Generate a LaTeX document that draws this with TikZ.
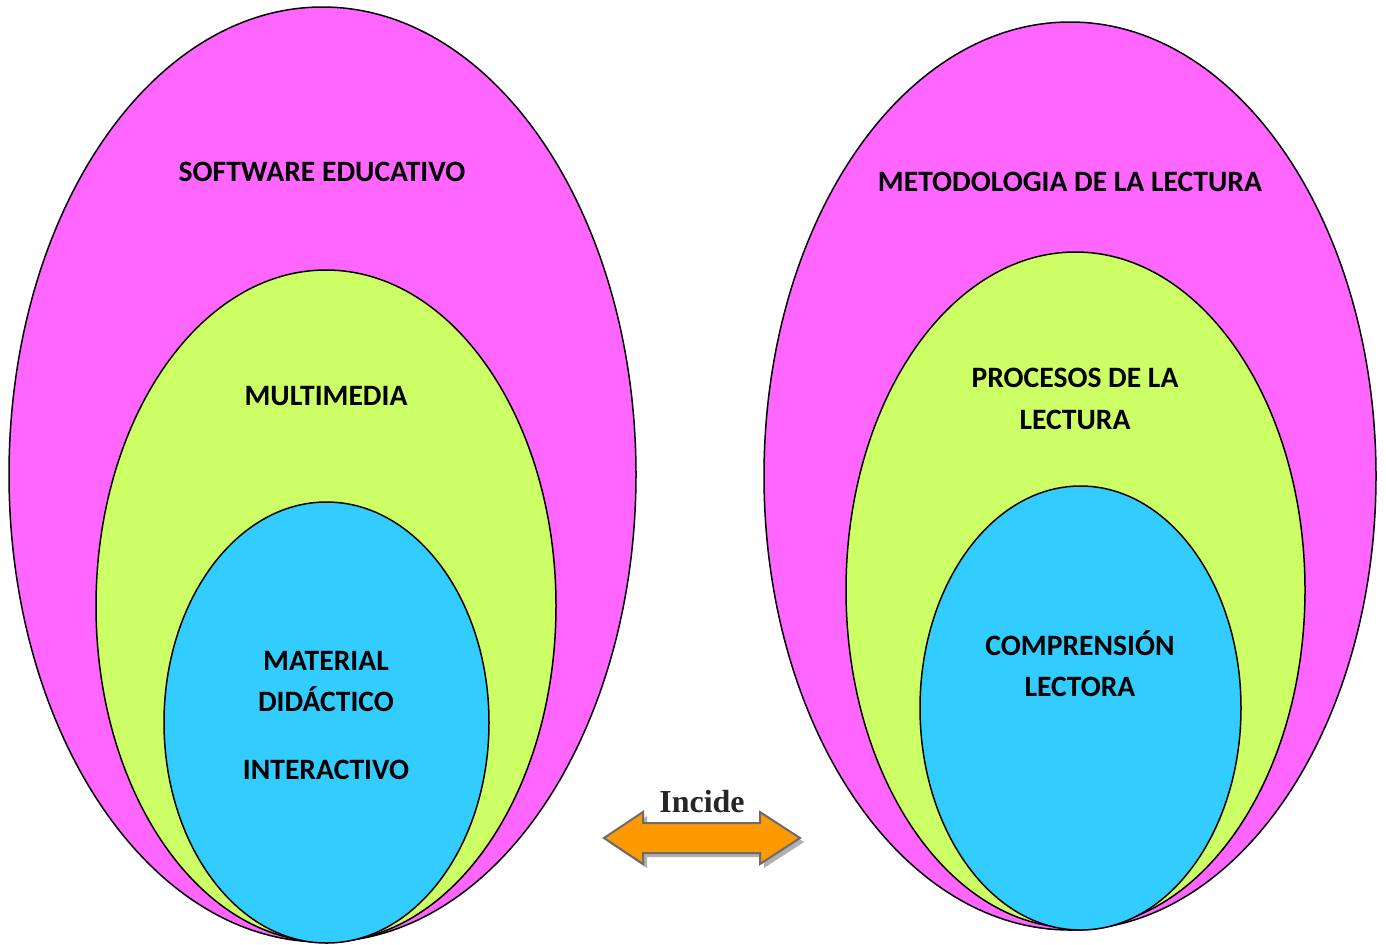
\documentclass[tikz,border=0pt]{standalone}
\usepackage{fontspec}
\setmainfont{Carlito}
\newfontfamily\timesf{Liberation Serif}
\usetikzlibrary{shapes.geometric}
\definecolor{magfill}{HTML}{FF66FF}
\definecolor{greenfill}{HTML}{CCFF66}
\definecolor{cyanfill}{HTML}{33CCFF}
\definecolor{arroworange}{HTML}{FF9900}
\definecolor{arrowedge}{HTML}{6B6B6B}
\definecolor{shadowgray}{HTML}{B0B0B0}
\definecolor{inctext}{HTML}{262626}
\tikzset{
  ell/.style={ellipse, draw=black, line width=0.75pt, inner sep=0pt},
  lbl/.style={font=\bfseries\fontsize{14.8}{17}\selectfont, text height=9.6pt, text depth=0pt, inner sep=0pt, anchor=center},
}
\begin{document}
\begin{tikzpicture}[x=0.5pt,y=-0.5pt]
\useasboundingbox (0,0) rectangle (1386,944);
% left group
\node[ell, fill=magfill, minimum width=313.5pt, minimum height=467.5pt] (L1) at (322.5,474.5) {};
\node[ell, fill=greenfill, minimum width=230pt, minimum height=336pt] (L2) at (326,606) {};
\node[ell, fill=cyanfill, minimum width=162.5pt, minimum height=220.5pt] (L3) at (326.5,722.5) {};
% right group
\node[ell, fill=magfill, minimum width=306pt, minimum height=454pt] (R1) at (1070,476) {};
\node[ell, fill=greenfill, minimum width=229.5pt, minimum height=338pt] (R2) at (1075.5,590) {};
\node[ell, fill=cyanfill, minimum width=160.5pt, minimum height=222pt] (R3) at (1080.5,708) {};
% labels
\node[lbl] (t1) at (322,172) {SOFTWARE EDUCATIVO};
\node[lbl] (t2) at (326,396) {MULTIMEDIA};
\node[lbl] (t3) at (326,661) {MATERIAL};
\node[lbl] (t4) at (326,702) {DIDÁCTICO};
\node[lbl] (t5) at (326,770) {INTERACTIVO};
\node[lbl] (t6) at (1070,182) {METODOLOGIA DE LA LECTURA};
\node[lbl] (t7) at (1075,378) {PROCESOS DE LA};
\node[lbl] (t8) at (1075,420) {LECTURA};
\node[lbl] (t9) at (1080,646) {COMPRENSIÓN};
\node[lbl] (t10) at (1080,687) {LECTORA};
% double arrow with shadow
\fill[shadowgray] ([shift={(4,4)}]604,838) -- ([shift={(4,4)}]643,812) -- ([shift={(4,4)}]643,823) -- ([shift={(4,4)}]760,823) -- ([shift={(4,4)}]760,812) -- ([shift={(4,4)}]800,838) -- ([shift={(4,4)}]760,864) -- ([shift={(4,4)}]760,853) -- ([shift={(4,4)}]643,853) -- ([shift={(4,4)}]643,864) -- cycle;
\filldraw[fill=arroworange, draw=arrowedge, line width=1pt, line join=miter] (604,838) -- (643,812) -- (643,823) -- (760,823) -- (760,812) -- (800,838) -- (760,864) -- (760,853) -- (643,853) -- (643,864) -- cycle;
\node[font=\timesf\bfseries\fontsize{16}{18}\selectfont, text=inctext, inner sep=0pt, text height=10.5pt, text depth=0pt] (inc) at (702,802) {Incide};
\end{tikzpicture}
\end{document}
